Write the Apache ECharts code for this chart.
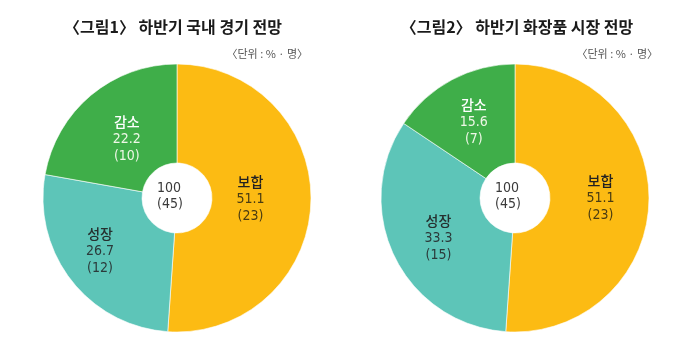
<!DOCTYPE html>
<html>
<head>
<meta charset="utf-8">
<script src="https://cdn.jsdelivr.net/npm/echarts@6/dist/echarts.min.js"></script>
<style>
  html, body { margin: 0; padding: 0; background: #fff; }
  #chart { width: 700px; height: 351px; }
</style>
</head>
<body>
<div id="chart"></div>
<script>
// Data
const categories = ['보합', '성장', '감소'];
const economyPct = [51.1, 26.7, 22.2];
const economyCnt = [23, 12, 10];
const cosmeticsPct = [51.1, 33.3, 15.6];
const cosmeticsCnt = [23, 15, 7];
const totalPct = ['100', '100'];
const totalCnt = [45, 45];
const titles = ['〈그림1〉 하반기 국내 경기 전망', '〈그림2〉 하반기 화장품 시장 전망'];
const unitText = '〈단위 : % · 명〉';

const colors = ['#FCBB13', '#5DC5B8', '#3FAE49'];
const nameColors = ['#222222', '#26302f', '#ffffff'];
const valueColors = ['#4a3c12', '#2b3a3a', '#eef7e6'];

const numFont = '"DejaVu Sans Condensed", Roboto, "Noto Sans CJK KR", sans-serif';
const krFont = '"Noto Sans CJK KR", sans-serif';

// small label nudges (hand placed in the original)
const nudge1 = [[-14, -2], [-8, -1], [6, 8]];
const nudge2 = [[-2, -3], [2, 1], [0, 1]];

function buildSeries(pct, cnt, center, nudge) {
    return {
        type: 'pie',
        center: center,
        radius: [35, 134],
        startAngle: 90,
        clockwise: true,
        silent: true,
        itemStyle: { borderColor: '#ffffff', borderWidth: 0.6 },
        label: {
            show: true,
            position: 'inside',
            formatter: function (p) {
                const i = p.dataIndex;
                return '{n' + i + '|' + p.name + '}\n{v' + i + '|' + p.value + '}\n{v' + i + '|(' + cnt[i] + ')}';
            },
            rich: (function () {
                let r = {};
                for (let i = 0; i < categories.length; i++) {
                    r['n' + i] = { fontFamily: krFont, fontSize: 14, fontWeight: 500, color: nameColors[i], lineHeight: 18 };
                    r['v' + i] = { fontFamily: numFont, fontSize: 14, color: valueColors[i], lineHeight: 17 };
                }
                return r;
            })()
        },
        labelLayout: function (params) {
            const d = nudge[params.dataIndex];
            return { dx: d[0], dy: d[1] };
        },
        labelLine: { show: false },
        data: categories.map(function (c, i) {
            return { name: c, value: pct[i], itemStyle: { color: colors[i] } };
        })
    };
}

const chart = echarts.init(document.getElementById('chart'), null, { renderer: 'canvas' });

const centers = [[177, 198], [515, 198]];

const option = {
    backgroundColor: '#ffffff',
    animation: false,
    title: [
        { text: titles[0], left: 168, top: 14, textAlign: 'center',
          textStyle: { fontFamily: krFont, fontSize: 16, fontWeight: 'bold', color: '#1a1a1a' } },
        { text: titles[1], left: 512, top: 14, textAlign: 'center',
          textStyle: { fontFamily: krFont, fontSize: 16, fontWeight: 'bold', color: '#1a1a1a' } },
        { text: unitText, right: 387, top: 43,
          textStyle: { fontFamily: krFont, fontSize: 11, fontWeight: 'normal', color: '#555555' } },
        { text: unitText, right: 37, top: 43,
          textStyle: { fontFamily: krFont, fontSize: 11, fontWeight: 'normal', color: '#555555' } }
    ],
    graphic: centers.map(function (c, k) {
        return {
            type: 'text',
            left: c[0] - 20,
            top: c[1] - 18,
            style: {
                text: totalPct[k] + '\n(' + totalCnt[k] + ')',
                width: 40,
                align: 'center',
                font: '14px ' + numFont,
                lineHeight: 16,
                fill: '#3a3a3a'
            }
        };
    }),
    series: [
        buildSeries(economyPct, economyCnt, centers[0], nudge1),
        buildSeries(cosmeticsPct, cosmeticsCnt, centers[1], nudge2)
    ]
};

chart.setOption(option);
</script>
</body>
</html>
